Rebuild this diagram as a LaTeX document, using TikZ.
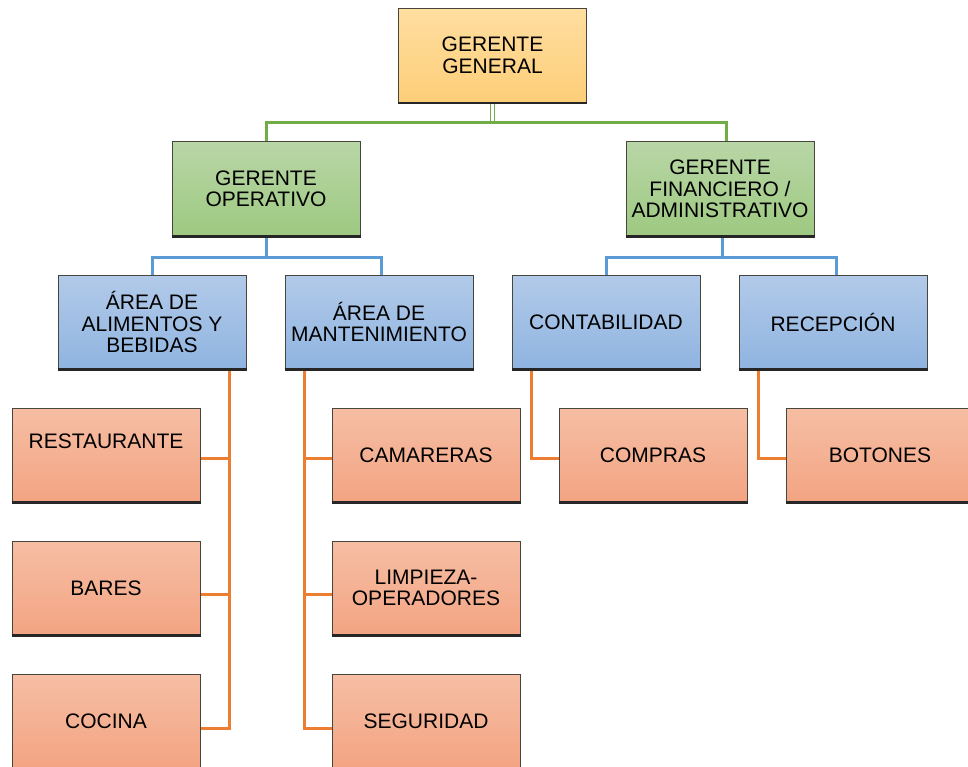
\documentclass[tikz,border=0pt]{standalone}
\usepackage{fontspec}
\setmainfont{Liberation Sans}
\definecolor{ggtop}{RGB}{255,222,160}
\definecolor{ggbot}{RGB}{253,206,120}
\definecolor{grtop}{RGB}{184,214,166}
\definecolor{grbot}{RGB}{158,201,129}
\definecolor{bltop}{RGB}{178,202,233}
\definecolor{blbot}{RGB}{143,180,224}
\definecolor{ortop}{RGB}{246,190,164}
\definecolor{orbot}{RGB}{243,164,130}
\definecolor{lgreen}{RGB}{112,173,71}
\definecolor{lblue}{RGB}{91,155,213}
\definecolor{lorange}{RGB}{237,125,49}
\definecolor{edge}{RGB}{70,70,60}
\begin{document}
\begin{tikzpicture}[x=1pt,y=-1pt,
  box/.style={draw=edge, line width=1pt, minimum width=188pt, minimum height=94pt,
    inner sep=2pt, align=center, font=\fontsize{21}{21.5}\selectfont, text=black},
  ggbox/.style={box, top color=ggtop, bottom color=ggbot},
  grbox/.style={box, top color=grtop, bottom color=grbot},
  blbox/.style={box, top color=bltop, bottom color=blbot},
  orbox/.style={box, top color=ortop, bottom color=orbot},
  gline/.style={draw=lgreen, line width=3pt},
  bline/.style={draw=lblue, line width=3pt},
  oline/.style={draw=lorange, line width=3pt},
  shadowline/.style={draw=black!85, line width=2.5pt}]
\useasboundingbox (0,0) rectangle (968,767);
\node[ggbox] (gg) at (492.5,55.5) {GERENTE\\GENERAL};
\node[grbox] (go) at (266,189) {GERENTE\\OPERATIVO};
\node[grbox] (gf) at (720,189) {GERENTE\\FINANCIERO /\\ADMINISTRATIVO};
\node[blbox] (ali) at (152,322) {ÁREA DE\\ALIMENTOS Y\\BEBIDAS};
\node[blbox] (man) at (379,322) {ÁREA DE\\MANTENIMIENTO};
\node[blbox] (con) at (606,322) {CONTABILIDAD};
\node[blbox] (rec) at (833,322) {RECEPCIÓN};
\node[orbox] (res) at (106,455) {\raisebox{7pt}[0pt][0pt]{RESTAURANTE}};
\node[orbox] (bar) at (106,588) {BARES};
\node[orbox] (coc) at (106,721) {COCINA};
\node[orbox] (cam) at (426,455) {CAMARERAS};
\node[orbox] (lim) at (426,588) {LIMPIEZA-\\OPERADORES};
\node[orbox] (seg) at (426,721) {SEGURIDAD};
\node[orbox] (com) at (653,455) {COMPRAS};
\node[orbox] (bot) at (880,455) {BOTONES};
% green
\draw[draw=lgreen, line width=1.5pt] ([xshift=-2]gg.south) -- ([xshift=-2]gg.south |- 0,123);
\draw[draw=lgreen, line width=1.5pt] ([xshift=2]gg.south) -- ([xshift=2]gg.south |- 0,123);
\coordinate (gj) at (gg.south |- 0,123);
\draw[gline] (gj) -| (go.north);
\draw[gline] (gj) -| ([xshift=6]gf.north);
% blue
\coordinate (bj1) at (go.south |- 0,257);
\draw[bline] (go.south) -- (bj1) -| (ali.north);
\draw[bline] (bj1) -| ([xshift=2]man.north);
\coordinate (bj2) at ([xshift=2]gf.south |- 0,257);
\draw[bline] ([xshift=2]gf.south) -- (bj2) -| (con.north);
\draw[bline] (bj2) -| ([xshift=3]rec.north);
% orange
\coordinate (oa) at ([xshift=-17]ali.south east);
\draw[oline] (oa) |- ([yshift=-7]coc.east);
\draw[oline] ([yshift=-3]res.east) -- ([yshift=-3]res.east -| oa);
\draw[oline] ([yshift=-6]bar.east) -- ([yshift=-6]bar.east -| oa);
\coordinate (om) at ([xshift=20]man.south west);
\draw[oline] (om) |- ([yshift=-7]seg.west);
\draw[oline] ([yshift=-3]cam.west) -- ([yshift=-3]cam.west -| om);
\draw[oline] ([yshift=-6]lim.west) -- ([yshift=-6]lim.west -| om);
\coordinate (oc) at ([xshift=20]con.south west);
\draw[oline] (oc) |- ([yshift=-3]com.west);
\coordinate (or) at ([xshift=20]rec.south west);
\draw[oline] (or) |- ([yshift=-3]bot.west);
% bottom shadow edges
\foreach \n in {gg,go,gf,ali,man,con,rec,res,bar,cam,lim,com,bot}
  \draw[shadowline] (\n.south west) -- (\n.south east);
\end{tikzpicture}
\end{document}
